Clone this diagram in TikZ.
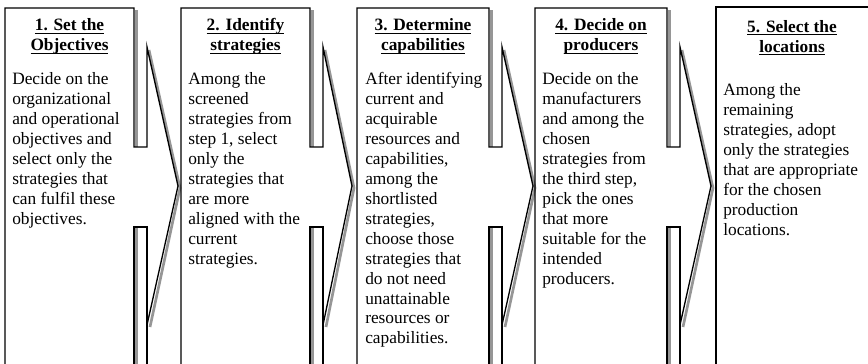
\documentclass[tikz,border=0pt]{standalone}
\usepackage{fontspec}
\setmainfont{Liberation Serif}

% underline set at a fixed depth below the baseline
\newcommand{\ulin}[1]{\setbox0\hbox{#1}\rlap{\rule[-2.3pt]{\wd0}{0.9pt}}\box0}
% lines hung from the baseline of their first line
\newcommand{\steplines}[2]{\begin{tabular}[t]{@{}#1@{}}#2\end{tabular}}

\tikzset{
  outline/.style={draw=black, line width=1pt, line join=miter},
  shade/.style={draw={rgb, 255:red, 150; green, 150; blue, 150}, line width=2pt},
  steptitle/.style={anchor=base, inner sep=0pt, font=\fontsize{13}{15}\selectfont\bfseries},
  stepbody/.style={anchor=base west, inner sep=0pt, font=\fontsize{13}{15}\selectfont}
}

\begin{document}
\begin{tikzpicture}[x=0.75pt,y=0.75pt,yscale=-1,xscale=1]
\useasboundingbox (0,0) rectangle (868,364);
\clip (0,0) rectangle (868,364);

%Shadows of the step outlines
\draw [shade] (136.5,10) -- (136.5,147) ;
\draw [shade] (136.5,227) -- (136.5,370) ;
\draw [shade] (149,50) -- (180,188) -- (150,327) ;
\draw [shade] (312.5,10) -- (312.5,147) ;
\draw [shade] (312.5,227) -- (312.5,370) ;
\draw [shade] (325,50) -- (354,188) -- (326,327) ;
\draw [shade] (491.5,10) -- (491.5,147) ;
\draw [shade] (491.5,227) -- (491.5,370) ;
\draw [shade] (504,50) -- (535,188) -- (505,327) ;
\draw [shade] (669.5,10) -- (669.5,147) ;
\draw [shade] (669.5,227) -- (669.5,370) ;
\draw [shade] (682,50) -- (713,188) -- (683,327) ;

%Shape: Step 1 with arrow
\draw [outline] (5,370) -- (5,8) -- (134,8) -- (134,147) -- (147,147) -- (147,47) -- (178,186) -- (147,325) ;
\draw [outline] (147,370) -- (147,227) -- (134,227) -- (134,370) ;
%Shape: Step 2 with arrow
\draw [outline] (181,370) -- (181,8) -- (310,8) -- (310,147) -- (323,147) -- (323,47) -- (352,186) -- (323,325) ;
\draw [outline] (323,370) -- (323,227) -- (310,227) -- (310,370) ;
%Shape: Step 3 with arrow
\draw [outline] (357,370) -- (357,8) -- (489,8) -- (489,147) -- (502,147) -- (502,47) -- (533,186) -- (502,325) ;
\draw [outline] (502,370) -- (502,227) -- (489,227) -- (489,370) ;
%Shape: Step 4 with arrow
\draw [outline] (535,370) -- (535,8) -- (667,8) -- (667,147) -- (680,147) -- (680,47) -- (711,186) -- (680,325) ;
\draw [outline] (680,370) -- (680,227) -- (667,227) -- (667,370) ;
%Shape: Step 5
\draw [outline] (716,370) -- (716,7) -- (875,7) ;

% titles
\node [steptitle] (title1) at (69.5,31) {\steplines{c}{\ulin{1. Set the}\\\ulin{Objectives}}};
\node [steptitle] (title2) at (245.5,31) {\steplines{c}{\ulin{2. Identify}\\\ulin{strategies}}};
\node [steptitle] (title3) at (423,31) {\steplines{c}{\ulin{3. Determine}\\\ulin{capabilities}}};
\node [steptitle] (title4) at (601,31) {\steplines{c}{\ulin{4. Decide on}\\\ulin{producers}}};
\node [steptitle] (title5) at (792,32) {\steplines{c}{\ulin{5. Select the}\\\ulin{locations}}};

% step texts
\node [stepbody] (body1) at (12,84) {\steplines{l}{Decide on the\\organizational\\and operational\\objectives and\\select only the\\strategies that\\can fulfil these\\objectives.}};
\node [stepbody] (body2) at (188,84) {\steplines{l}{Among the\\screened\\strategies from\\step 1, select\\only the\\strategies that\\are more\\aligned with the\\current\\strategies.}};
\node [stepbody] (body3) at (365,84) {\steplines{l}{After identifying\\current and\\acquirable\\resources and\\capabilities,\\among the\\shortlisted\\strategies,\\choose those\\strategies that\\do not need\\unattainable\\resources or\\capabilities.}};
\node [stepbody] (body4) at (542,84) {\steplines{l}{Decide on the\\manufacturers\\and among the\\chosen\\strategies from\\the third step,\\pick the ones\\that more\\suitable for the\\intended\\producers.}};
\node [stepbody] (body5) at (723,95) {\steplines{l}{Among the\\remaining\\strategies, adopt\\only the strategies\\that are appropriate\\for the chosen\\production\\locations.}};

\end{tikzpicture}
\end{document}
